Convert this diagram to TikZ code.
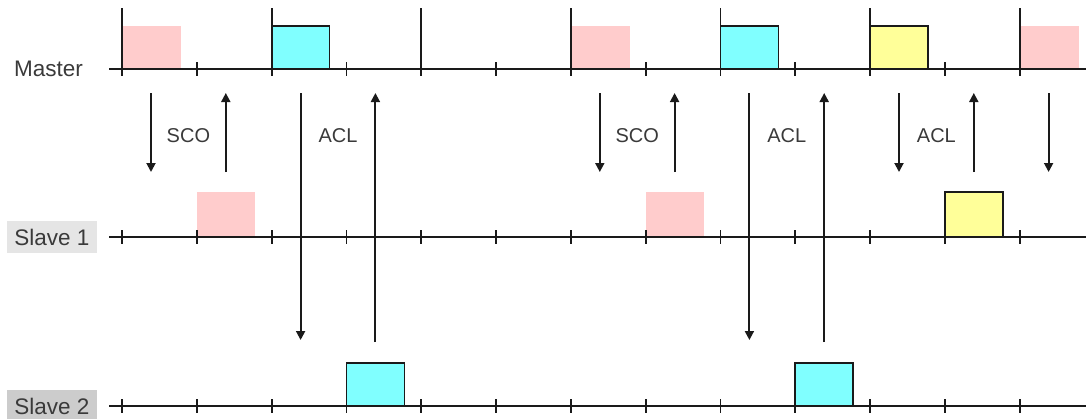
\documentclass[tikz,border=0pt]{standalone}
\usepackage{fontspec}
\setmainfont{Liberation Sans}
\usetikzlibrary{arrows.meta}
\definecolor{scopink}{HTML}{FFCCCC}
\definecolor{aclcyan}{HTML}{80FFFF}
\definecolor{aclyellow}{HTML}{FFFF99}
\definecolor{ink}{HTML}{1A1A1A}
\definecolor{txt}{HTML}{3A3A3A}
\definecolor{labelA}{HTML}{E5E5E5}
\definecolor{labelB}{HTML}{CCCCCC}
\begin{document}
\begin{tikzpicture}[x=1pt,y=-1pt,
  axis/.style={line width=1.9pt,draw=ink},
  tickmark/.style={line width=1.8pt,draw=ink},
  slot/.style={anchor=south west,inner sep=0pt,outer sep=0pt,
    minimum width=58pt,minimum height=43pt},
  scoslot/.style={slot,fill=scopink},
  aclslot/.style={slot,fill=#1,draw=ink,line width=1.6pt},
  msg/.style={line width=1.9pt,draw=ink,-{Triangle[length=9pt,width=9pt]}},
  rowlabel/.style={text=txt,font=\fontsize{22.5}{24}\selectfont,inner sep=0pt},
  chan/.style={text=txt,font=\fontsize{20}{22}\selectfont,inner sep=0pt}
]
\useasboundingbox (0,0) rectangle (1086,418);

% row labels
\node[rowlabel,anchor=base] (master) at (48.5,76) {Master};
\node[rowlabel,fill=labelA,minimum width=90pt,minimum height=32pt] (slave1) at (52,237) {Slave 1};
\node[rowlabel,fill=labelB,minimum width=90pt,minimum height=32pt] (slave2) at (52,406) {Slave 2};

% master slots
\node[scoslot] (m0) at (123,69) {};
\node[aclslot=aclcyan] (m2) at ({122+2*74.8},69) {};
\node[scoslot] (m6) at ({123+6*74.8},69) {};
\node[aclslot=aclcyan] (m8) at ({122+8*74.8},69) {};
\node[aclslot=aclyellow] (m10) at ({122+10*74.8},69) {};
\node[scoslot] (m12) at ({123+12*74.8},69) {};

% slave 1 slots
\node[scoslot,minimum height=45pt] (a1) at ({122+1*74.8},237) {};
\node[scoslot,minimum height=45pt] (a7) at ({122+7*74.8},237) {};
\node[aclslot=aclyellow,minimum height=45pt] (a11) at ({122+11*74.8},237) {};

% slave 2 slots
\node[aclslot=aclcyan] (b3) at ({122+3*74.8},406) {};
\node[aclslot=aclcyan] (b9) at ({122+9*74.8},406) {};

% time axes
\draw[axis] (109,69) -- (1086,69);
\draw[axis] (109,237) -- (1086,237);
\draw[axis] (109,406) -- (1086,406);

% master slot boundaries (tall) and half-slot ticks
\foreach \i in {0,2,...,12}{
  \pgfmathsetmacro\xx{122+\i*74.8}
  \draw[tickmark] (\xx,8) -- (\xx,76);
}
\foreach \i in {1,3,...,11}{
  \pgfmathsetmacro\xx{122+\i*74.8}
  \draw[tickmark] (\xx,62) -- (\xx,76);
}
% slave ticks
\foreach \i in {0,...,12}{
  \pgfmathsetmacro\xx{122+\i*74.8}
  \draw[tickmark] (\xx,230) -- (\xx,244);
  \draw[tickmark] (\xx,399) -- (\xx,413);
}

% master -> slave transmissions
\foreach \i/\yend in {0/172,2/340,6/172,8/340,10/172,12/172}{
  \pgfmathsetmacro\xx{122+\i*74.8+29}
  \coordinate (dn\i top) at (\xx,93);
  \coordinate (dn\i end) at (\xx,\yend);
  \draw[msg] (dn\i top) -- (dn\i end);
}
% slave -> master transmissions
\foreach \i/\ystart in {1/172,3/342,7/172,9/342,11/172}{
  \pgfmathsetmacro\xx{122+\i*74.8+29}
  \coordinate (up\i start) at (\xx,\ystart);
  \coordinate (up\i end) at (\xx,93);
  \draw[msg] (up\i start) -- (up\i end);
}

% link type labels
\foreach \i/\t in {0/SCO,2/ACL,6/SCO,8/ACL,10/ACL}{
  \node[chan] (lab\i) at ({122+\i*74.8+66.4},136) {\t};
}
\end{tikzpicture}
\end{document}
